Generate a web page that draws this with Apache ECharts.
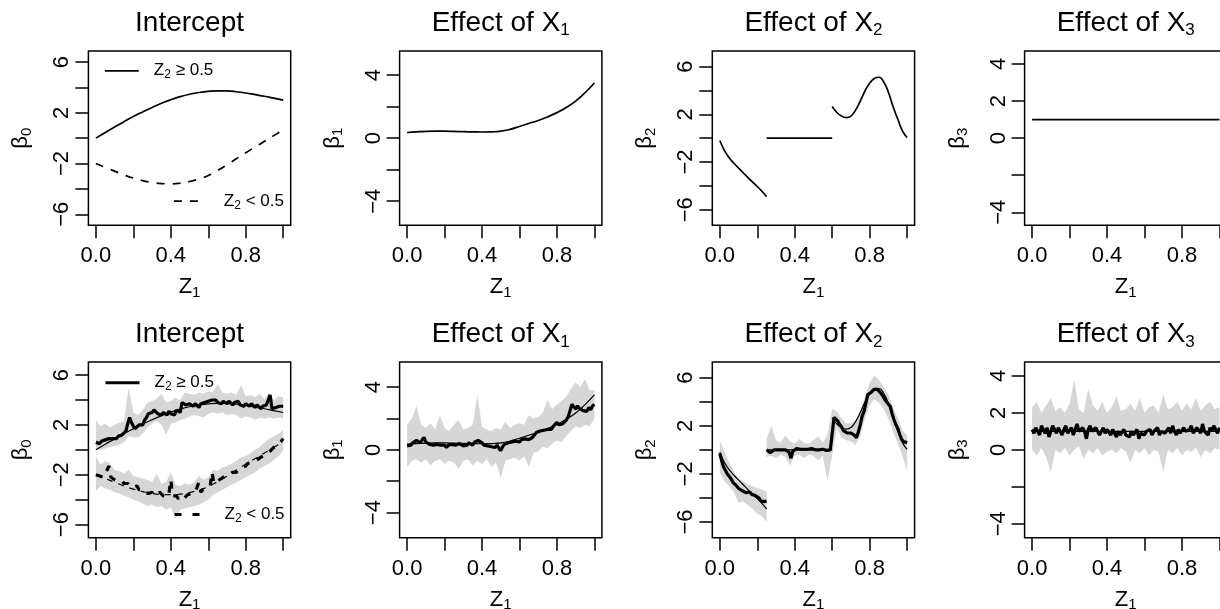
<!DOCTYPE html>
<html><head><meta charset="utf-8">
<script src="https://cdn.jsdelivr.net/npm/echarts@6/dist/echarts.min.js"></script>
<style>html,body{margin:0;padding:0;background:#fff}#c{width:1220px;height:609px}</style>
</head><body><div id="c"></div>
<script>
// ---------------- DATA ----------------
const Z = [0,0.01,0.02,0.03,0.04,0.05,0.06,0.07,0.08,0.09,0.1,0.11,0.12,0.13,0.14,0.15,0.16,0.17,0.18,0.19,0.2,0.21,0.22,0.23,0.24,0.25,0.26,0.27,0.28,0.29,0.3,0.31,0.32,0.33,0.34,0.35,0.36,0.37,0.38,0.39,0.4,0.41,0.42,0.43,0.44,0.45,0.46,0.47,0.48,0.49,0.5,0.51,0.52,0.53,0.54,0.55,0.56,0.57,0.58,0.59,0.6,0.61,0.62,0.63,0.64,0.65,0.66,0.67,0.68,0.69,0.7,0.71,0.72,0.73,0.74,0.75,0.76,0.77,0.78,0.79,0.8,0.81,0.82,0.83,0.84,0.85,0.86,0.87,0.88,0.89,0.9,0.91,0.92,0.93,0.94,0.95,0.96,0.97,0.98,0.99,1];
const ZB = [0,0.025,0.05,0.075,0.1,0.125,0.15,0.175,0.2,0.225,0.25,0.275,0.3,0.325,0.35,0.375,0.4,0.425,0.45,0.475,0.5,0.525,0.55,0.575,0.6,0.625,0.65,0.675,0.7,0.725,0.75,0.775,0.8,0.825,0.85,0.875,0.9,0.925,0.95,0.975,1];
const Z05 = [0,0.05,0.1,0.15,0.2,0.25,0.3,0.35,0.4,0.45,0.5,0.55,0.6,0.65,0.7,0.75,0.8,0.85,0.9,0.95,1];

// true coefficient curves
const trueB0hi = [0,0.45,0.88,1.3,1.7,2.07,2.42,2.75,3.03,3.27,3.46,3.6,3.69,3.73,3.72,3.66,3.56,3.43,3.3,3.15,3.0];
const trueB0lo = [-2.0,-2.3,-2.6,-2.9,-3.15,-3.35,-3.5,-3.58,-3.6,-3.55,-3.42,-3.22,-2.95,-2.55,-2.1,-1.62,-1.15,-0.7,-0.25,0.2,0.65];
const trueB1 = [0.36,0.4,0.43,0.44,0.44,0.43,0.41,0.4,0.39,0.4,0.44,0.56,0.74,0.93,1.12,1.35,1.62,1.95,2.35,2.88,3.5];
const trueB2a = [-0.2,-1.05,-1.65,-2.1,-2.5,-2.9,-3.3,-3.68,-4.05,-4.45,-4.9];
const trueB2bX = [0.25,0.6];
const trueB2b = [0,0];
const trueB2c = [2.65,2.15,1.85,1.72,1.85,2.35,3.1,3.95,4.6,5.0,5.1,4.7,3.85,2.65,1.6,0.6,0.05];
const trueB3X = [0,1];
const trueB3 = [1,1];

// estimates (bottom row)
const estB0hi = [0.6,0.7,0.5,0.7,0.6,0.8,0.7,0.9,0.8,0.9,1.0,
 0.9,1.1,1.0,1.2,1.3,1.5,2.1,2.6,2.2,1.9,
 1.7,1.6,2.0,2.1,2.0,2.4,2.6,2.9,2.8,3.0,
 3.2,3.1,2.9,3.0,2.8,3.0,2.9,2.8,3.1,2.9,
 3.0,2.8,3.2,3.1,3.0,3.8,3.7,3.6,3.5,3.7,
 3.6,3.5,3.7,3.6,3.4,3.7,3.6,3.8,3.7,3.9,
 3.8,4.0,3.9,4.0,3.8,3.9,3.7,3.9,3.8,3.7,
 3.9,3.8,3.6,3.8,3.7,3.9,3.6,3.7,3.5,3.7,
 3.6,3.5,3.7,3.6,3.4,3.6,3.5,3.3,3.5,3.4,
 3.6,3.5,4.4,3.3,3.2,3.4,3.3,3.5,3.4,3.5];
const estB0lo = [-2.0,-1.9,-2.1,-2.0,-2.2,-1.9,-1.8,-1.3,-2.2,-2.3,-2.4,
 -2.3,-2.5,-2.6,-2.5,-2.7,-2.8,-2.7,-2.9,-2.8,-3.0,
 -3.1,-2.9,-3.2,-3.1,-3.2,-3.4,-3.3,-3.5,-3.4,-3.4,
 -3.6,-3.5,-3.6,-3.4,-3.5,-3.7,-3.6,-3.8,-3.5,-2.4,
 -3.7,-3.8,-3.7,-3.9,-3.8,-3.7,-3.9,-3.8,-3.6,-3.7,
 -3.5,-3.6,-3.4,-3.5,-2.6,-3.4,-3.2,-3.3,-3.1,-3.0,
 -2.9,-1.8,-2.7,-2.6,-2.5,-2.4,-2.3,-2.2,-2.1,-2.0,
 -2.0,-1.9,-1.8,-1.7,-1.8,-1.6,-1.5,-1.4,-1.3,-1.3,
 -1.1,-1.2,-1.0,-0.9,-0.9,-0.8,-0.7,-0.6,-0.5,-0.4,
 -0.3,-0.2,-0.1,0.0,0.2,0.3,0.4,0.5,0.7,0.9];
const estB1 = [0.25,0.35,0.3,0.45,0.4,0.6,0.5,0.45,0.55,0.8,0.5,
 0.4,0.35,0.45,0.3,0.3,0.35,0.25,0.3,0.2,0.3,
 0.15,0.3,0.2,0.35,0.25,0.3,0.2,0.4,0.3,0.25,
 0.35,0.3,0.45,0.35,0.3,0.5,0.4,0.6,0.7,0.45,
 0.3,0.4,0.25,0.35,0.2,0.3,0.15,0.3,0.1,-0.05,
 0.2,0.35,0.25,0.45,0.35,0.5,0.4,0.55,0.6,0.5,
 0.65,0.55,0.7,0.6,0.65,0.55,0.8,0.95,1.1,1.05,
 1.2,1.1,1.25,1.15,1.3,1.4,1.3,1.5,1.45,1.75,
 1.6,1.5,1.65,1.55,1.9,2.1,2.0,2.9,2.75,2.6,
 2.8,2.65,2.7,2.5,2.6,2.45,2.7,2.55,2.8,2.9];
const estB2a = [-0.3,-0.9,-1.4,-1.7,-2.0,-2.2,-2.4,-2.7,-2.8,-3.0,-3.2,-3.3,-3.4,-3.5,-3.55,-3.6,-3.5,-3.7,-3.75,-3.8,-3.9,-4.0,-4.25,-4.3,-4.3,-4.25];
const estB2b = [0.0,0.05,-0.25,-0.1,0.0,0.05,0.0,-0.05,0.0,0.05,
 0.0,-0.1,-0.2,-0.7,-0.1,0.05,0.1,0.0,0.05,0.1,
 0.05,0.0,0.05,0.0,0.1,0.05,0.0,0.05,0.0,0.05,
 0.05,0.0,-0.05,-0.2,0.0,
 0.05,2.7,2.6,2.4,2.1,1.9,1.6,1.5,1.4,1.45,
 1.4,1.35,1.2,1.0,1.5,2.1,2.8,3.2,3.9,4.6,
 4.7,4.8,5.0,5.1,5.05,4.9,4.7,4.5,4.2,4.0,
 3.8,3.6,3.0,2.5,2.1,1.8,1.3,0.9,0.7,0.65,
 0.6];
const estB3 = [1.1,0.9,1.2,1.0,0.8,1.3,1.1,0.9,1.2,0.7,1.0,
 1.3,1.1,0.9,1.2,1.0,0.8,1.1,1.3,0.9,1.0,
 1.2,0.8,1.1,1.4,1.0,0.9,1.2,1.0,0.6,1.1,
 1.3,1.0,0.9,1.2,1.1,0.8,1.0,1.2,0.9,1.1,
 1.0,0.8,1.1,0.9,0.7,1.0,0.8,0.9,1.1,0.8,
 0.9,0.7,1.0,0.8,0.9,1.1,0.6,0.9,1.0,0.8,
 1.0,0.9,1.1,0.8,1.0,0.9,1.2,0.8,1.0,1.1,
 0.9,1.0,1.2,0.9,1.3,1.0,0.8,1.1,0.9,1.0,
 1.2,1.0,0.9,1.1,1.3,0.9,1.0,1.2,1.1,0.9,
 1.4,1.0,1.1,0.8,1.2,1.0,1.3,1.1,0.9,1.2];

// grey replication envelopes (bottom row)
const bandB0aLo = [0.0,0.0,0.1,0.2,0.3,0.4,0.6,1.1,1.0,1.0,1.3,1.8,2.1,2.3,2.0,1.2,2.1,2.2,2.4,2.5,2.7,2.8,2.7,2.6,2.9,3.0,2.9,3.0,2.8,2.9,2.8,2.5,2.7,2.6,2.4,2.6,2.5,2.6,2.5,2.6,2.5];
const bandB0aHi = [2.4,1.9,2.1,1.8,2.0,2.2,2.3,5.0,3.0,2.8,3.2,3.8,3.9,4.1,4.5,3.8,3.9,4.2,4.0,4.6,4.5,4.4,4.6,4.5,4.7,4.6,5.3,4.6,4.5,4.6,4.4,5.2,4.3,4.4,4.2,4.5,4.1,4.6,4.0,4.3,4.2];
const bandB0bLo = [-3.3,-2.9,-3.1,-3.2,-3.4,-3.5,-3.7,-3.8,-4.0,-4.1,-4.3,-4.5,-4.4,-4.6,-4.5,-4.8,-4.6,-5.5,-4.8,-4.7,-4.6,-4.5,-4.4,-4.2,-4.0,-3.6,-3.4,-3.2,-3.0,-2.8,-2.6,-2.4,-2.2,-2.0,-1.8,-1.5,-1.3,-1.1,-0.8,-0.5,-0.1];
const bandB0bHi = [-0.5,-1.2,-0.9,-1.1,-1.6,-1.7,-1.9,-1.6,-2.1,-2.2,-2.3,-2.4,-2.6,-1.9,-2.7,-2.6,-1.8,-2.8,-2.9,-2.7,-2.8,-2.6,-2.1,-2.4,-2.2,-1.6,-1.7,-1.4,-1.3,-1.1,-0.9,-0.6,-0.5,-0.3,0.0,0.2,0.6,0.9,1.1,1.3,1.6];
const bandB1Lo = [-1.1,-0.7,-0.6,-0.8,-0.6,-1.0,-0.7,-0.6,-0.9,-0.7,-0.8,-1.2,-0.7,-0.6,-1.0,-0.7,-0.9,-0.6,-1.1,-0.8,-1.8,-0.7,-0.6,-0.5,-0.7,-0.4,-1.1,-0.2,-0.1,0.2,0.1,0.4,0.6,0.5,0.9,1.2,1.5,1.4,1.6,1.5,2.0];
const bandB1Hi = [1.6,2.0,2.8,1.6,1.4,1.7,1.3,2.2,1.4,1.2,1.6,1.9,1.3,1.4,1.6,3.5,1.5,1.3,1.2,1.4,1.3,1.8,1.4,1.6,1.7,1.6,2.2,2.0,2.1,2.4,3.2,2.6,2.9,3.1,3.4,3.9,4.3,4.0,4.5,3.8,3.8];
const bandB2aLo = [-1.9,-2.6,-3.0,-3.5,-4.4,-4.3,-4.6,-4.9,-5.3,-5.5,-6.0];
const bandB2aHi = [0.8,-0.2,-1.0,-1.8,-2.4,-2.6,-2.9,-3.0,-3.2,-3.3,-3.5];
const bandB2bLo = [-0.6,-0.5,-0.7,-0.4,-0.6,-1.3,-0.5,-0.4,-0.7,-0.4,-0.5,-0.9,-0.5,-2.6,-0.4,1.8,1.0,0.8,0.7,0.4,1.2,2.6,3.7,4.2,3.9,3.4,2.6,1.5,0.6,-0.5,-1.8];
const bandB2bHi = [0.9,2.0,0.8,0.6,1.2,0.7,0.5,0.9,0.6,0.5,0.8,1.1,0.6,1.3,3.4,3.2,2.6,2.2,2.2,2.5,3.3,4.4,5.6,6.2,5.8,5.2,4.6,3.6,2.6,1.6,1.2];
const bandB3Lo = [0.0,-0.3,0.1,-0.4,-1.2,0.0,-0.2,0.1,-0.3,0.0,0.2,-0.5,0.0,-0.2,0.1,-0.3,-0.1,0.0,-0.2,0.1,-0.1,-0.7,0.0,-0.2,0.1,-0.3,0.0,-0.1,-1.2,0.0,-0.2,0.1,-0.3,0.0,-0.1,0.1,-0.4,0.0,-0.2,0.1,0.0];
const bandB3Hi = [2.3,2.6,2.0,2.4,2.8,2.1,2.3,2.0,2.5,3.8,2.2,2.0,3.3,2.4,2.1,2.6,2.0,2.3,2.9,2.1,2.2,2.5,2.1,2.8,2.0,2.3,2.4,2.0,3.0,2.2,2.3,2.6,2.1,2.5,2.2,2.8,2.1,2.4,2.6,2.2,2.3];

// text & ticks
const titleMain = ['Intercept','Effect of X','Effect of X','Effect of X'];
const titleSub = ['','1','2','3'];
const yNameSub = ['0','1','2','3'];
const xTicks = [0,0.2,0.4,0.6,0.8,1.0];
const xTickLabels = [0,0.4,0.8];
const yTicks = [[-6,-4,-2,0,2,4,6],[-4,-2,0,2,4],[-6,-4,-2,0,2,4,6],[-4,-2,0,2,4]];
const yTickLabels = [[-6,-2,2,6],[-4,0,4],[-6,-2,2,6],[-4,0,2,4]];
const legendText = {
  L_top_hi: '{zp|Z}{s|2}{z| \u2265 0.5}', L_top_lo: '{zq|Z}{s|2}{z| < 0.5}',
  L_bot_hi: '{zp|Z}{s|2}{z| \u2265 0.5}', L_bot_lo: '{zq|Z}{s|2}{z| < 0.5}'
};

// ---------------- LAYOUT ----------------
const FONT = 'Liberation Sans, Arial, Helvetica, sans-serif';
const colLeft = [88.4, 399.6, 712.3, 1024.6];
const gridW = 202.3;
const rowTop = [51, 362];
const rowH = [174.3, 175.7];
const yLim = [[6.87,5.53,7.3,4.7],[7.05,5.6,7.3,4.75]];
const titleTop = [7, 318.6];

const grids = [], xAxes = [], yAxes = [], titles = [];
const fmtY = v => (v < 0 ? '\u2212' + (-v) : String(v));
const nameRich = {
  z: {fontSize: 22, fontFamily: FONT, fontWeight: 'normal', color: '#000', lineHeight: 26, verticalAlign: 'middle'},
  s: {fontSize: 15, fontFamily: FONT, fontWeight: 'normal', color: '#000', lineHeight: 12, verticalAlign: 'bottom'}
};
for (let r = 0; r < 2; r++) {
  for (let c = 0; c < 4; c++) {
    const p = r * 4 + c;
    grids.push({left: colLeft[c], top: rowTop[r], width: gridW, height: rowH[r], show: true,
      borderColor: '#000', borderWidth: 1.5, backgroundColor: 'transparent', containLabel: false, outerBoundsMode: 'none'});
    xAxes.push({type: 'value', gridIndex: p, min: -0.04, max: 1.04, position: 'bottom',
      axisLine: {show: false, onZero: false}, splitLine: {show: false},
      axisTick: {show: true, inside: false, length: 13, lineStyle: {color: '#000', width: 1.5}, customValues: xTicks},
      axisLabel: {show: true, customValues: xTickLabels, formatter: v => Number(v).toFixed(1), margin: 20,
        fontSize: 22, fontFamily: FONT, color: '#000'},
      name: '{z|Z}{s|1}', nameLocation: 'middle', nameGap: 49, nameTextStyle: {rich: nameRich}});
    yAxes.push({type: 'value', gridIndex: p, min: -yLim[r][c], max: yLim[r][c], position: 'left',
      axisLine: {show: false, onZero: false}, splitLine: {show: false},
      axisTick: {show: true, inside: false, length: 13, lineStyle: {color: '#000', width: 1.5}, customValues: yTicks[c]},
      axisLabel: {show: true, customValues: yTickLabels[c], rotate: 90, formatter: fmtY, margin: 15,
        fontSize: 22, fontFamily: FONT, color: '#000'},
      name: '{z|\u03b2}{s|' + yNameSub[c] + '}', nameLocation: 'middle', nameGap: 54, nameRotate: 90,
      nameTextStyle: {rich: nameRich}});
    titles.push({text: titleSub[c] ? '{t|' + titleMain[c] + '}{s|' + titleSub[c] + '}' : '{t|' + titleMain[c] + '}',
      left: colLeft[c] + gridW / 2, top: titleTop[r], textAlign: 'center', padding: 0,
      textStyle: {fontWeight: 'normal', rich: {
        t: {fontSize: 28, fontFamily: FONT, fontWeight: 'normal', color: '#000', lineHeight: 32, verticalAlign: 'middle'},
        s: {fontSize: 17, fontFamily: FONT, fontWeight: 'normal', color: '#000', lineHeight: 14, verticalAlign: 'bottom'}
      }}});
  }
}

// ---------------- SERIES ----------------
const series = [];
function line(p, xs, ys, width, dash, name, smooth) {
  series.push({type: 'line', name: name || undefined, xAxisIndex: p, yAxisIndex: p,
    data: xs.map((x, i) => [x, ys[i]]), symbol: 'none', smooth: smooth || false, silent: true,
    lineStyle: {color: '#000', width: width, type: dash || 'solid'}, itemStyle: {color: '#000'}});
}
function bandRender(params, api) {
  if (params.dataIndexInside !== 0) return null;
  const n = params.dataInsideLength;
  const up = [], dn = [];
  for (let i = 0; i < n; i++) {
    const x = api.value(0, i);
    up.push(api.coord([x, api.value(2, i)]));
    dn.push(api.coord([x, api.value(1, i)]));
  }
  return {type: 'polygon', shape: {points: up.concat(dn.reverse())}, style: {fill: '#d6d6d6'}, silent: true};
}
function band(p, xs, lo, hi) {
  series.push({type: 'custom', xAxisIndex: p, yAxisIndex: p, renderItem: bandRender, silent: true,
    data: xs.map((x, i) => [x, lo[i], hi[i]]), encode: {x: 0, y: [1, 2]}, clip: true});
}
const DASH_TOP = [8, 8], DASH_THIN = [6, 6], DASH_THICK = [7, 8];

// top row: true curves
line(0, Z05, trueB0hi, 1.7, null, 'L_top_hi', 0.5);
line(0, Z05, trueB0lo, 1.7, DASH_TOP, 'L_top_lo', 0.5);
line(1, Z05, trueB1, 1.7, null, null, 0.5);
line(2, ZB.slice(0, 11), trueB2a, 1.7, null, null, 0.35);
line(2, trueB2bX, trueB2b, 1.7);
line(2, ZB.slice(24), trueB2c, 1.7, null, null, 0.5);
line(3, trueB3X, trueB3, 1.7);

// bottom row
band(4, ZB, bandB0aLo, bandB0aHi);
band(4, ZB, bandB0bLo, bandB0bHi);
line(4, Z, estB0hi, 3.2, null, 'L_bot_hi');
line(4, Z, estB0lo, 3.2, DASH_THICK, 'L_bot_lo');
line(4, Z05, trueB0hi, 1.2, null, null, 0.5);
line(4, Z05, trueB0lo, 1.2, DASH_THIN, null, 0.5);

band(5, ZB, bandB1Lo, bandB1Hi);
line(5, Z, estB1, 3.2);
line(5, Z05, trueB1, 1.2, null, null, 0.5);

band(6, ZB.slice(0, 11), bandB2aLo, bandB2aHi);
band(6, ZB.slice(10), bandB2bLo, bandB2bHi);
line(6, Z.slice(0, 26), estB2a, 3.2);
line(6, Z.slice(25), estB2b, 3.2);
line(6, ZB.slice(0, 11), trueB2a, 1.2, null, null, 0.35);
line(6, trueB2bX, trueB2b, 1.2);
line(6, ZB.slice(24), trueB2c, 1.2, null, null, 0.5);

band(7, ZB, bandB3Lo, bandB3Hi);
line(7, Z, estB3, 3.2);
line(7, trueB3X, trueB3, 1.2);

// ---------------- LEGENDS ----------------
const legRich = {
  z: {fontSize: 17, fontFamily: FONT, color: '#000', lineHeight: 20, verticalAlign: 'middle'},
  zp: {fontSize: 17, fontFamily: FONT, color: '#000', lineHeight: 20, verticalAlign: 'middle', padding: [0, 0, 0, 10]},
  zq: {fontSize: 17, fontFamily: FONT, color: '#000', lineHeight: 20, verticalAlign: 'middle', padding: [0, 0, 0, 19]},
  s: {fontSize: 12, fontFamily: FONT, color: '#000', lineHeight: 10, verticalAlign: 'bottom'}
};
function legend(name, left, cy, w, width, dash) {
  return {show: true, data: [name], left: left, top: cy - 10, padding: 0, itemWidth: w, itemHeight: 14,
    selectedMode: false, formatter: n => legendText[n], textStyle: {rich: legRich},
    itemStyle: {color: 'rgba(0,0,0,0)', borderWidth: 0, borderColor: 'rgba(0,0,0,0)', opacity: 0},
    lineStyle: {color: '#000', width: width, type: dash, opacity: 1}};
}
const legends = [
  legend('L_top_hi', 104, 72.3, 34, 1.7, 'solid'),
  legend('L_top_lo', 173, 202.7, 26, 1.7, DASH_TOP),
  legend('L_bot_hi', 104, 384.3, 34, 3, 'solid'),
  legend('L_bot_lo', 173, 516, 26, 3, [7, 11])
];

const chart = echarts.init(document.getElementById('c'), null, {renderer: 'canvas', width: 1220, height: 609});
chart.setOption({
  animation: false,
  backgroundColor: '#fff',
  title: titles,
  legend: legends,
  grid: grids,
  xAxis: xAxes,
  yAxis: yAxes,
  series: series
});
</script>
</body></html>
